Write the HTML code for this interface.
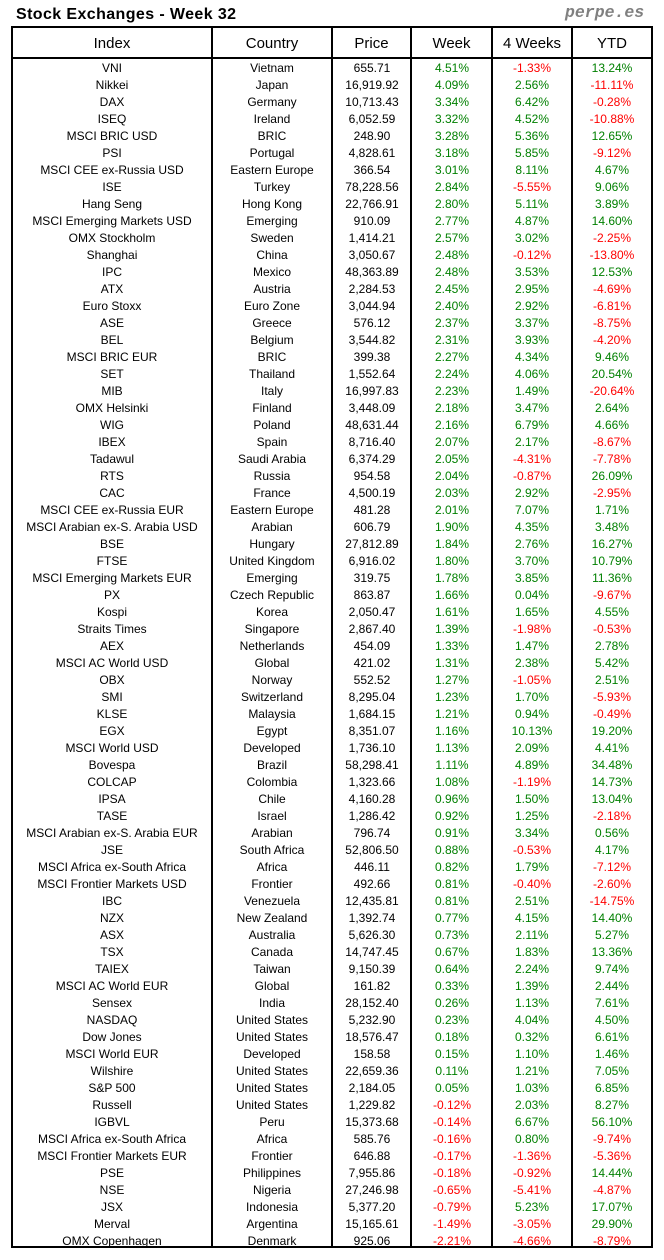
<!DOCTYPE html>
<html><head><meta charset="utf-8">
<style>
html,body{margin:0;padding:0;background:#fff}
body{width:664px;height:1260px;position:relative;overflow:hidden;font-family:"Liberation Sans",sans-serif;color:#000}
.t{position:absolute;left:16px;top:7px;font-size:16px;line-height:16px;font-weight:bold;letter-spacing:0.4px;white-space:nowrap}
.p{position:absolute;left:565px;top:4px;font-family:"Liberation Mono",monospace;font-weight:bold;font-style:italic;font-size:16.5px;line-height:18px;color:#808080;white-space:nowrap}
.l{position:absolute;background:#000}
.h{position:absolute;top:29px;height:29px;line-height:29px;font-size:15px;text-align:center;white-space:nowrap}
.wrap{position:absolute;left:11px;top:60px;width:642px;height:1186px;overflow:hidden}
table{border-collapse:collapse;border-spacing:0;table-layout:fixed;width:640px}
td{padding:0 0 0 2px;height:17px;line-height:17px;font-size:12px;text-align:center;white-space:nowrap;overflow:hidden}
tr{height:17px}
.g{color:#008000}
.r{color:#ff0000}
.wb{position:absolute;left:0;top:1248px;width:664px;height:12px;background:#fff}
</style></head><body>
<div class="t">Stock Exchanges - Week 32</div>
<div class="p">perpe.es</div>

<div class="h" style="left:13px;width:198px">Index</div>
<div class="h" style="left:213px;width:118px">Country</div>
<div class="h" style="left:333px;width:77px">Price</div>
<div class="h" style="left:412px;width:79px">Week</div>
<div class="h" style="left:493px;width:78px">4 Weeks</div>
<div class="h" style="left:573px;width:78px">YTD</div>

<div class="wrap">
<table>
<colgroup><col style="width:200px"><col style="width:120px"><col style="width:80px"><col style="width:80px"><col style="width:80px"><col style="width:80px"></colgroup>
<tr><td>VNI<td>Vietnam<td>655.71<td class=g>4.51%<td class=r>-1.33%<td class=g>13.24%
<tr><td>Nikkei<td>Japan<td>16,919.92<td class=g>4.09%<td class=g>2.56%<td class=r>-11.11%
<tr><td>DAX<td>Germany<td>10,713.43<td class=g>3.34%<td class=g>6.42%<td class=r>-0.28%
<tr><td>ISEQ<td>Ireland<td>6,052.59<td class=g>3.32%<td class=g>4.52%<td class=r>-10.88%
<tr><td>MSCI BRIC USD<td>BRIC<td>248.90<td class=g>3.28%<td class=g>5.36%<td class=g>12.65%
<tr><td>PSI<td>Portugal<td>4,828.61<td class=g>3.18%<td class=g>5.85%<td class=r>-9.12%
<tr><td>MSCI CEE ex-Russia USD<td>Eastern Europe<td>366.54<td class=g>3.01%<td class=g>8.11%<td class=g>4.67%
<tr><td>ISE<td>Turkey<td>78,228.56<td class=g>2.84%<td class=r>-5.55%<td class=g>9.06%
<tr><td>Hang Seng<td>Hong Kong<td>22,766.91<td class=g>2.80%<td class=g>5.11%<td class=g>3.89%
<tr><td>MSCI Emerging Markets USD<td>Emerging<td>910.09<td class=g>2.77%<td class=g>4.87%<td class=g>14.60%
<tr><td>OMX Stockholm<td>Sweden<td>1,414.21<td class=g>2.57%<td class=g>3.02%<td class=r>-2.25%
<tr><td>Shanghai<td>China<td>3,050.67<td class=g>2.48%<td class=r>-0.12%<td class=r>-13.80%
<tr><td>IPC<td>Mexico<td>48,363.89<td class=g>2.48%<td class=g>3.53%<td class=g>12.53%
<tr><td>ATX<td>Austria<td>2,284.53<td class=g>2.45%<td class=g>2.95%<td class=r>-4.69%
<tr><td>Euro Stoxx<td>Euro Zone<td>3,044.94<td class=g>2.40%<td class=g>2.92%<td class=r>-6.81%
<tr><td>ASE<td>Greece<td>576.12<td class=g>2.37%<td class=g>3.37%<td class=r>-8.75%
<tr><td>BEL<td>Belgium<td>3,544.82<td class=g>2.31%<td class=g>3.93%<td class=r>-4.20%
<tr><td>MSCI BRIC EUR<td>BRIC<td>399.38<td class=g>2.27%<td class=g>4.34%<td class=g>9.46%
<tr><td>SET<td>Thailand<td>1,552.64<td class=g>2.24%<td class=g>4.06%<td class=g>20.54%
<tr><td>MIB<td>Italy<td>16,997.83<td class=g>2.23%<td class=g>1.49%<td class=r>-20.64%
<tr><td>OMX Helsinki<td>Finland<td>3,448.09<td class=g>2.18%<td class=g>3.47%<td class=g>2.64%
<tr><td>WIG<td>Poland<td>48,631.44<td class=g>2.16%<td class=g>6.79%<td class=g>4.66%
<tr><td>IBEX<td>Spain<td>8,716.40<td class=g>2.07%<td class=g>2.17%<td class=r>-8.67%
<tr><td>Tadawul<td>Saudi Arabia<td>6,374.29<td class=g>2.05%<td class=r>-4.31%<td class=r>-7.78%
<tr><td>RTS<td>Russia<td>954.58<td class=g>2.04%<td class=r>-0.87%<td class=g>26.09%
<tr><td>CAC<td>France<td>4,500.19<td class=g>2.03%<td class=g>2.92%<td class=r>-2.95%
<tr><td>MSCI CEE ex-Russia EUR<td>Eastern Europe<td>481.28<td class=g>2.01%<td class=g>7.07%<td class=g>1.71%
<tr><td>MSCI Arabian ex-S. Arabia USD<td>Arabian<td>606.79<td class=g>1.90%<td class=g>4.35%<td class=g>3.48%
<tr><td>BSE<td>Hungary<td>27,812.89<td class=g>1.84%<td class=g>2.76%<td class=g>16.27%
<tr><td>FTSE<td>United Kingdom<td>6,916.02<td class=g>1.80%<td class=g>3.70%<td class=g>10.79%
<tr><td>MSCI Emerging Markets EUR<td>Emerging<td>319.75<td class=g>1.78%<td class=g>3.85%<td class=g>11.36%
<tr><td>PX<td>Czech Republic<td>863.87<td class=g>1.66%<td class=g>0.04%<td class=r>-9.67%
<tr><td>Kospi<td>Korea<td>2,050.47<td class=g>1.61%<td class=g>1.65%<td class=g>4.55%
<tr><td>Straits Times<td>Singapore<td>2,867.40<td class=g>1.39%<td class=r>-1.98%<td class=r>-0.53%
<tr><td>AEX<td>Netherlands<td>454.09<td class=g>1.33%<td class=g>1.47%<td class=g>2.78%
<tr><td>MSCI AC World USD<td>Global<td>421.02<td class=g>1.31%<td class=g>2.38%<td class=g>5.42%
<tr><td>OBX<td>Norway<td>552.52<td class=g>1.27%<td class=r>-1.05%<td class=g>2.51%
<tr><td>SMI<td>Switzerland<td>8,295.04<td class=g>1.23%<td class=g>1.70%<td class=r>-5.93%
<tr><td>KLSE<td>Malaysia<td>1,684.15<td class=g>1.21%<td class=g>0.94%<td class=r>-0.49%
<tr><td>EGX<td>Egypt<td>8,351.07<td class=g>1.16%<td class=g>10.13%<td class=g>19.20%
<tr><td>MSCI World USD<td>Developed<td>1,736.10<td class=g>1.13%<td class=g>2.09%<td class=g>4.41%
<tr><td>Bovespa<td>Brazil<td>58,298.41<td class=g>1.11%<td class=g>4.89%<td class=g>34.48%
<tr><td>COLCAP<td>Colombia<td>1,323.66<td class=g>1.08%<td class=r>-1.19%<td class=g>14.73%
<tr><td>IPSA<td>Chile<td>4,160.28<td class=g>0.96%<td class=g>1.50%<td class=g>13.04%
<tr><td>TASE<td>Israel<td>1,286.42<td class=g>0.92%<td class=g>1.25%<td class=r>-2.18%
<tr><td>MSCI Arabian ex-S. Arabia EUR<td>Arabian<td>796.74<td class=g>0.91%<td class=g>3.34%<td class=g>0.56%
<tr><td>JSE<td>South Africa<td>52,806.50<td class=g>0.88%<td class=r>-0.53%<td class=g>4.17%
<tr><td>MSCI Africa ex-South Africa<td>Africa<td>446.11<td class=g>0.82%<td class=g>1.79%<td class=r>-7.12%
<tr><td>MSCI Frontier Markets USD<td>Frontier<td>492.66<td class=g>0.81%<td class=r>-0.40%<td class=r>-2.60%
<tr><td>IBC<td>Venezuela<td>12,435.81<td class=g>0.81%<td class=g>2.51%<td class=r>-14.75%
<tr><td>NZX<td>New Zealand<td>1,392.74<td class=g>0.77%<td class=g>4.15%<td class=g>14.40%
<tr><td>ASX<td>Australia<td>5,626.30<td class=g>0.73%<td class=g>2.11%<td class=g>5.27%
<tr><td>TSX<td>Canada<td>14,747.45<td class=g>0.67%<td class=g>1.83%<td class=g>13.36%
<tr><td>TAIEX<td>Taiwan<td>9,150.39<td class=g>0.64%<td class=g>2.24%<td class=g>9.74%
<tr><td>MSCI AC World EUR<td>Global<td>161.82<td class=g>0.33%<td class=g>1.39%<td class=g>2.44%
<tr><td>Sensex<td>India<td>28,152.40<td class=g>0.26%<td class=g>1.13%<td class=g>7.61%
<tr><td>NASDAQ<td>United States<td>5,232.90<td class=g>0.23%<td class=g>4.04%<td class=g>4.50%
<tr><td>Dow Jones<td>United States<td>18,576.47<td class=g>0.18%<td class=g>0.32%<td class=g>6.61%
<tr><td>MSCI World EUR<td>Developed<td>158.58<td class=g>0.15%<td class=g>1.10%<td class=g>1.46%
<tr><td>Wilshire<td>United States<td>22,659.36<td class=g>0.11%<td class=g>1.21%<td class=g>7.05%
<tr><td>S&amp;P 500<td>United States<td>2,184.05<td class=g>0.05%<td class=g>1.03%<td class=g>6.85%
<tr><td>Russell<td>United States<td>1,229.82<td class=r>-0.12%<td class=g>2.03%<td class=g>8.27%
<tr><td>IGBVL<td>Peru<td>15,373.68<td class=r>-0.14%<td class=g>6.67%<td class=g>56.10%
<tr><td>MSCI Africa ex-South Africa<td>Africa<td>585.76<td class=r>-0.16%<td class=g>0.80%<td class=r>-9.74%
<tr><td>MSCI Frontier Markets EUR<td>Frontier<td>646.88<td class=r>-0.17%<td class=r>-1.36%<td class=r>-5.36%
<tr><td>PSE<td>Philippines<td>7,955.86<td class=r>-0.18%<td class=r>-0.92%<td class=g>14.44%
<tr><td>NSE<td>Nigeria<td>27,246.98<td class=r>-0.65%<td class=r>-5.41%<td class=r>-4.87%
<tr><td>JSX<td>Indonesia<td>5,377.20<td class=r>-0.79%<td class=g>5.23%<td class=g>17.07%
<tr><td>Merval<td>Argentina<td>15,165.61<td class=r>-1.49%<td class=r>-3.05%<td class=g>29.90%
<tr><td>OMX Copenhagen<td>Denmark<td>925.06<td class=r>-2.21%<td class=r>-4.66%<td class=r>-8.79%
</table>
</div>

<div class="l" style="left:11px;top:26px;width:642px;height:2px"></div>
<div class="l" style="left:11px;top:57px;width:642px;height:2px"></div>
<div class="l" style="left:11px;top:1246px;width:642px;height:2px"></div>
<div class="l" style="left:11px;top:26px;width:2px;height:1222px"></div>
<div class="l" style="left:211px;top:26px;width:2px;height:1222px"></div>
<div class="l" style="left:331px;top:26px;width:2px;height:1222px"></div>
<div class="l" style="left:410px;top:26px;width:2px;height:1222px"></div>
<div class="l" style="left:491px;top:26px;width:2px;height:1222px"></div>
<div class="l" style="left:571px;top:26px;width:2px;height:1222px"></div>
<div class="l" style="left:651px;top:26px;width:2px;height:1222px"></div>
<div class="wb"></div>
</body></html>
